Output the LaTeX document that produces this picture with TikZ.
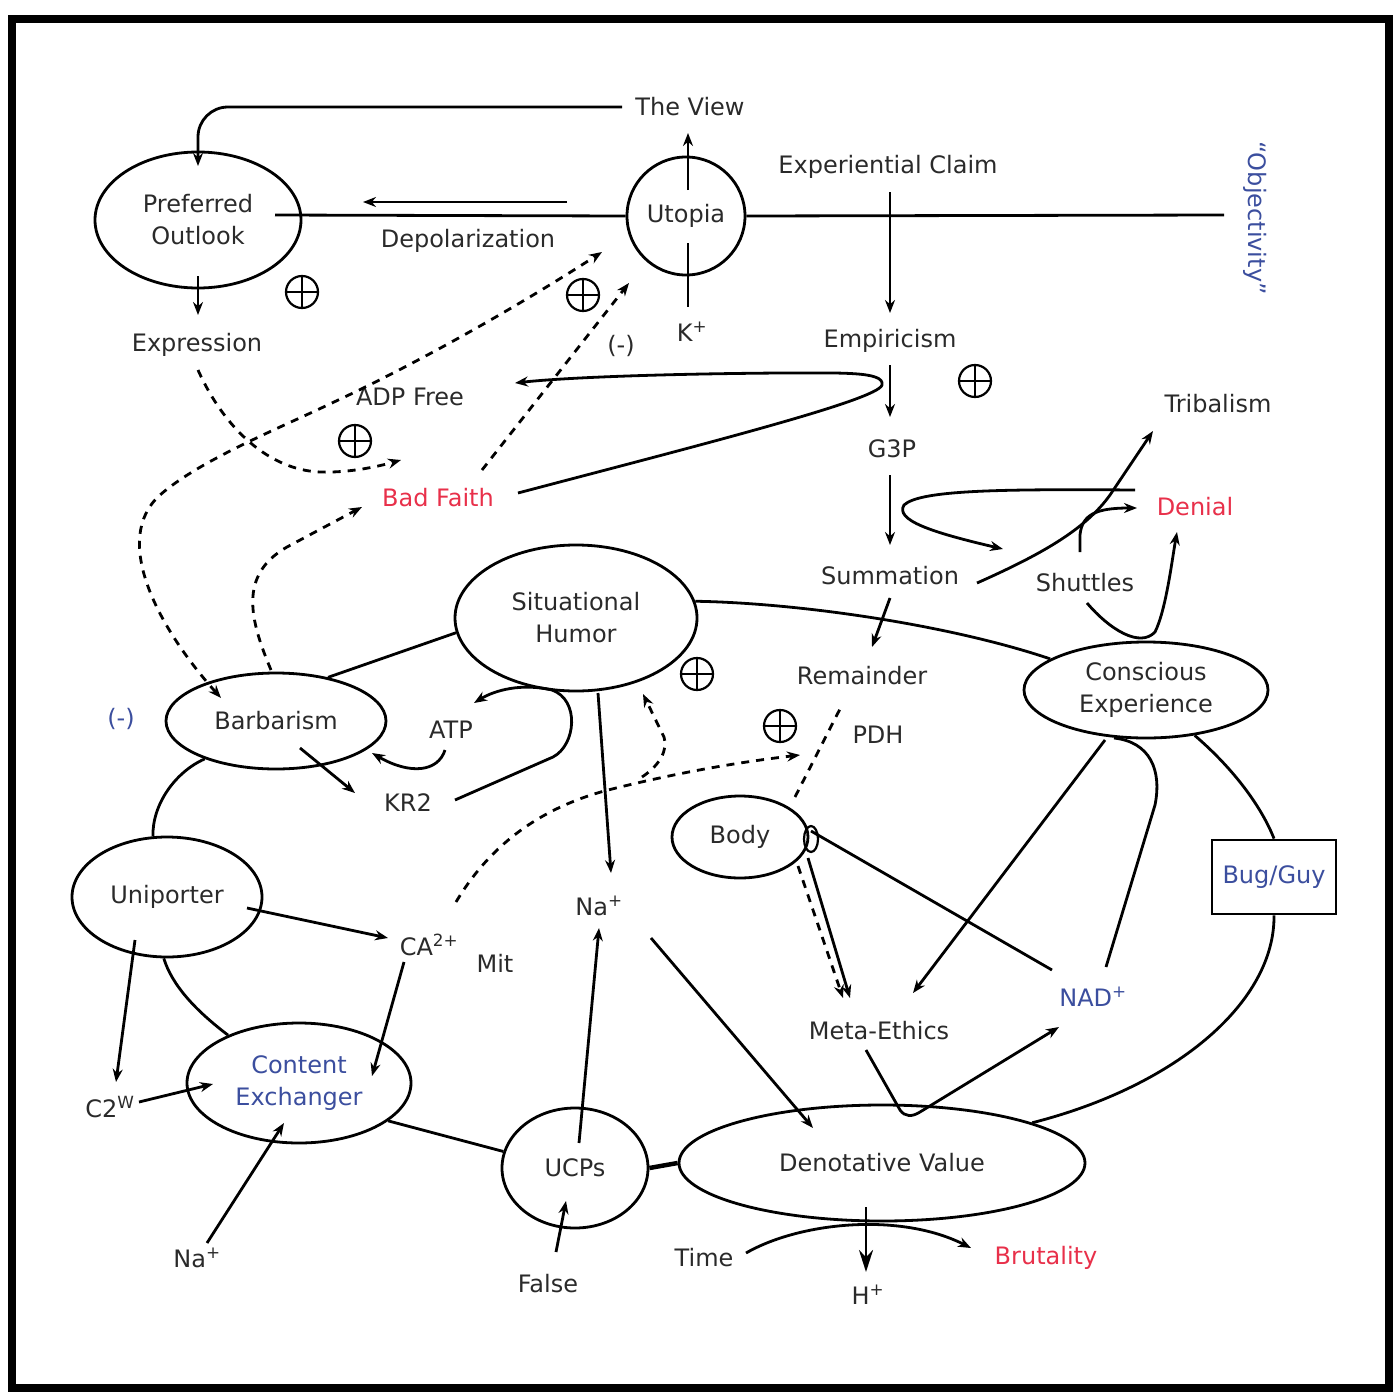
\documentclass[tikz,border=0pt]{standalone}
\usepackage{fontspec}
\setmainfont{DejaVu Sans}
\usetikzlibrary{shapes.geometric,arrows.meta,calc}
\definecolor{tcol}{HTML}{2A2A2A}
\definecolor{rcol}{HTML}{E8304A}
\definecolor{bcol}{HTML}{3B4E9E}
\newcommand{\fs}{\fontsize{24}{32}\selectfont}
\tikzset{
  txt/.style={inner sep=1pt, text=tcol, font=\fs, align=center},
  ell/.style={ellipse, draw=black, line width=2.8pt, inner sep=0pt, align=center, text=tcol, font=\fs},
  ln/.style={line width=2.8pt, draw=black},
  arr/.style={ln, -{Stealth[length=13pt,width=10pt]}},
  bigarr/.style={ln, -{Stealth[length=22pt,width=14pt]}},
  dsh/.style={line width=2.8pt, dash pattern=on 8pt off 7pt},
  darr/.style={dsh, -{Stealth[length=13pt,width=10pt]}},
  opl/.style={circle, draw, line width=2.2pt, minimum size=32pt, inner sep=0pt,
    path picture={\draw[line width=2.2pt] (path picture bounding box.north) -- (path picture bounding box.south)
      (path picture bounding box.west) -- (path picture bounding box.east);}}
}
\begin{document}
\begin{tikzpicture}[x=1pt,y=-1pt]
\useasboundingbox (0,0) rectangle (1400,1400);
\draw[line width=8pt] (12,19) rectangle (1389,1388);

% nodes
\node[ell, minimum width=206pt, minimum height=136pt] (po) at (198,220) {Preferred\\Outlook};
\node[circle, draw, line width=2.8pt, minimum size=118pt, inner sep=0pt, text=tcol, font=\fs] (ut) at (686,216) {Utopia};
\node[txt] (view) at (690,107) {The View};
\node[txt] (exp) at (888,167) {Experiential Claim};
\node[txt, text=bcol, rotate=-90] (obj) at (1255,218) {“Objectivity”};
\node[txt] (depol) at (468,241) {Depolarization};
\node[txt] (expr) at (197,345) {Expression};
\node[txt] (kp) at (692,332) {K\textsuperscript{+}};
\node[txt] (neg1) at (621,346) {(-)};
\node[txt] (emp) at (890,341) {Empiricism};
\node[txt] (adp) at (410,397) {ADP Free};
\node[txt] (g3p) at (892,449) {G3P};
\node[txt] (trib) at (1218,404) {Tribalism};
\node[txt, text=rcol] (bf) at (438,498) {Bad Faith};
\node[txt, text=rcol] (den) at (1195,507) {Denial};
\node[txt] (sum) at (890,576) {Summation};
\node[txt] (shut) at (1085,583) {Shuttles};
\node[ell, minimum width=242pt, minimum height=146pt] (sh) at (576,618) {Situational\\Humor};
\node[txt] (rem) at (862,676) {Remainder};
\node[ell, minimum width=244pt, minimum height=96pt] (ce) at (1146,690) {Conscious\\Experience};
\node[ell, minimum width=220pt, minimum height=96pt] (bar) at (276,721) {Barbarism};
\node[txt, text=bcol] (neg2) at (121,719) {(-)};
\node[txt] (atp) at (451,730) {ATP};
\node[txt] (pdh) at (878,735) {PDH};
\node[txt] (kr2) at (408,803) {KR2};
\node[ell, minimum width=136pt, minimum height=82pt] (body) at (740,837) {Body};
\node[ell, minimum width=190pt, minimum height=120pt] (uni) at (167,897) {Uniporter};
\node[draw, line width=2.8pt, minimum width=124pt, minimum height=74pt, inner sep=0pt, text=bcol, font=\fs] (bug) at (1274,877) {Bug/Guy};
\node[txt] (na1) at (599,906) {Na\textsuperscript{+}};
\node[txt] (ca) at (429,945) {CA\textsuperscript{2+}};
\node[txt] (mit) at (495,963) {Mit};
\node[txt, text=bcol] (nad) at (1093,997) {NAD\textsuperscript{+}};
\node[txt] (meta) at (879,1031) {Meta-Ethics};
\node[ell, minimum width=224pt, minimum height=120pt, text=bcol] (cex) at (299,1083) {Content\\Exchanger};
\node[txt] (c2w) at (110,1107) {C2\textsuperscript{W}};
\node[ell, minimum width=146pt, minimum height=120pt] (ucp) at (575,1168) {UCPs};
\node[ell, minimum width=406pt, minimum height=116pt] (dv) at (882,1163) {Denotative Value};
\node[txt] (na2) at (197,1258) {Na\textsuperscript{+}};
\node[txt] (false) at (548,1284) {False};
\node[txt] (time) at (704,1258) {Time};
\node[txt, text=rcol] (brut) at (1046,1258) {Brutality};
\node[txt] (hp) at (868,1295) {H\textsuperscript{+}};

\node[opl] (o1) at (302,292) {};
\node[opl] (o2) at (583,295) {};
\node[opl] (o3) at (355,441) {};
\node[opl] (o4) at (975,381) {};
\node[opl] (o5) at (697,674) {};
\node[opl] (o6) at (780,726) {};

% top connectors
\draw[arr, rounded corners=30pt] (622,107) -| (198,166);
\draw[ln] (275,215) -- (ut.west);
\draw[ln] (ut.east) -- (1224,215);
\draw[arr] (567,202) -- (363,202);
\draw[arr] (688,190) -- (688,133);
\draw[ln] (688,243) -- (688,307);
\draw[arr] (890,192) -- (890,313);
\draw[arr] (890,365) -- (890,417);
\draw[arr] (890,475) -- (890,545);
\draw[arr] (198,276) -- (198,315);
\draw[arr] (518,493) .. controls (700,445) and (878,400) .. (882,385)
  .. controls (885,371) and (840,373) .. (780,373)
  .. controls (650,374) and (560,378) .. (515,383);
\draw[arr] (977,583) .. controls (1040,555) and (1085,530) .. (1110,495) -- (1153,431);
\draw[arr] (1135,490) .. controls (1000,489) and (920,490) .. (904,505)
  .. controls (895,520) and (930,532) .. (1003,549);
\draw[arr] (1080,552) -- (1080,535) .. controls (1082,515) and (1095,508) .. (1137,508);
\draw[arr] (1087,603) .. controls (1110,630) and (1140,648) .. (1155,632)
  .. controls (1166,610) and (1172,560) .. (1177,532);
\draw[arr] (890,598) -- (872,647);

% membrane
\draw[ln] (sh.8) .. controls (800,603) and (950,625) .. (ce.162);
\draw[ln] (ce.-43) .. controls (1235,770) and (1262,808) .. (bug.north);
\draw[ln] (bug.south) .. controls (1275,1000) and (1180,1085) .. (dv.15);
\draw[line width=4.5pt] (ucp.east) -- (dv.west);
\draw[ln] (ucp.167) -- (cex.-23);
\draw[ln] (cex.146) .. controls (195,1010) and (172,985) .. (uni.-93);
\draw[ln] (uni.103) .. controls (152,805) and (175,772) .. (bar.-152);
\draw[ln] (bar.40) -- (sh.187);

% middle
\draw[arr] (455,800) -- (553,757) .. controls (576,745) and (580,700) .. (552,690)
  .. controls (522,683) and (495,690) .. (474,703);
\draw[arr] (445,750) .. controls (438,772) and (410,775) .. (372,753);
\draw[arr] (300,748) -- (355,793);
\draw[arr] (598,693) -- (611,873);
\draw[arr] (579,1143) -- (599,928);
\draw[arr] (651,938) -- (813,1128);
\draw[arr] (247,908) -- (388,938);
\draw[arr] (135,940) -- (116,1082);
\draw[arr] (139,1102) -- (213,1084);
\draw[arr] (404,962) -- (372,1076);
\draw[arr] (207,1243) -- (284,1123);
\draw[arr] (556,1252) -- (566,1201);
\draw[arr] (746,1253) .. controls (800,1222) and (900,1212) .. (971,1248);
\draw[bigarr] (866,1207) -- (866,1272);

% body region
\draw[line width=2.2pt] (811,839) ellipse [x radius=7pt, y radius=13pt];
\draw[arr] (808,858) -- (850,998);
\draw[darr] (798,866) -- (843,998);
\draw[ln] (811,831) -- (1052,970);
\draw[arr] (1105,740) -- (913,993);
\draw[ln] (1114,738) .. controls (1150,742) and (1162,770) .. (1155,805) -- (1106,967);
\draw[arr] (866,1050) -- (900,1110) .. controls (905,1117) and (912,1117) .. (920,1112) -- (1059,1027);

% dashed
\draw[darr] (198,370) .. controls (225,430) and (270,470) .. (320,472)
  .. controls (350,473) and (380,466) .. (401,460);
\draw[dsh, {Stealth[length=13pt,width=10pt]}-{Stealth[length=13pt,width=10pt]}]
  (221,698) .. controls (160,630) and (110,540) .. (160,495)
  .. controls (200,460) and (280,428) .. (334,402)
  .. controls (420,362) and (520,305) .. (602,252);
\draw[darr] (271,670) .. controls (250,620) and (238,575) .. (287,547) -- (362,507);
\draw[darr] (482,470) -- (629,283);
\draw[darr] (456,902) .. controls (490,845) and (540,808) .. (608,790)
  .. controls (680,772) and (740,762) .. (800,755);
\draw[darr] (642,777) .. controls (660,765) and (668,750) .. (664,737) -- (643,694);
\draw[dsh] (795,797) -- (842,705);
\end{tikzpicture}
\end{document}
